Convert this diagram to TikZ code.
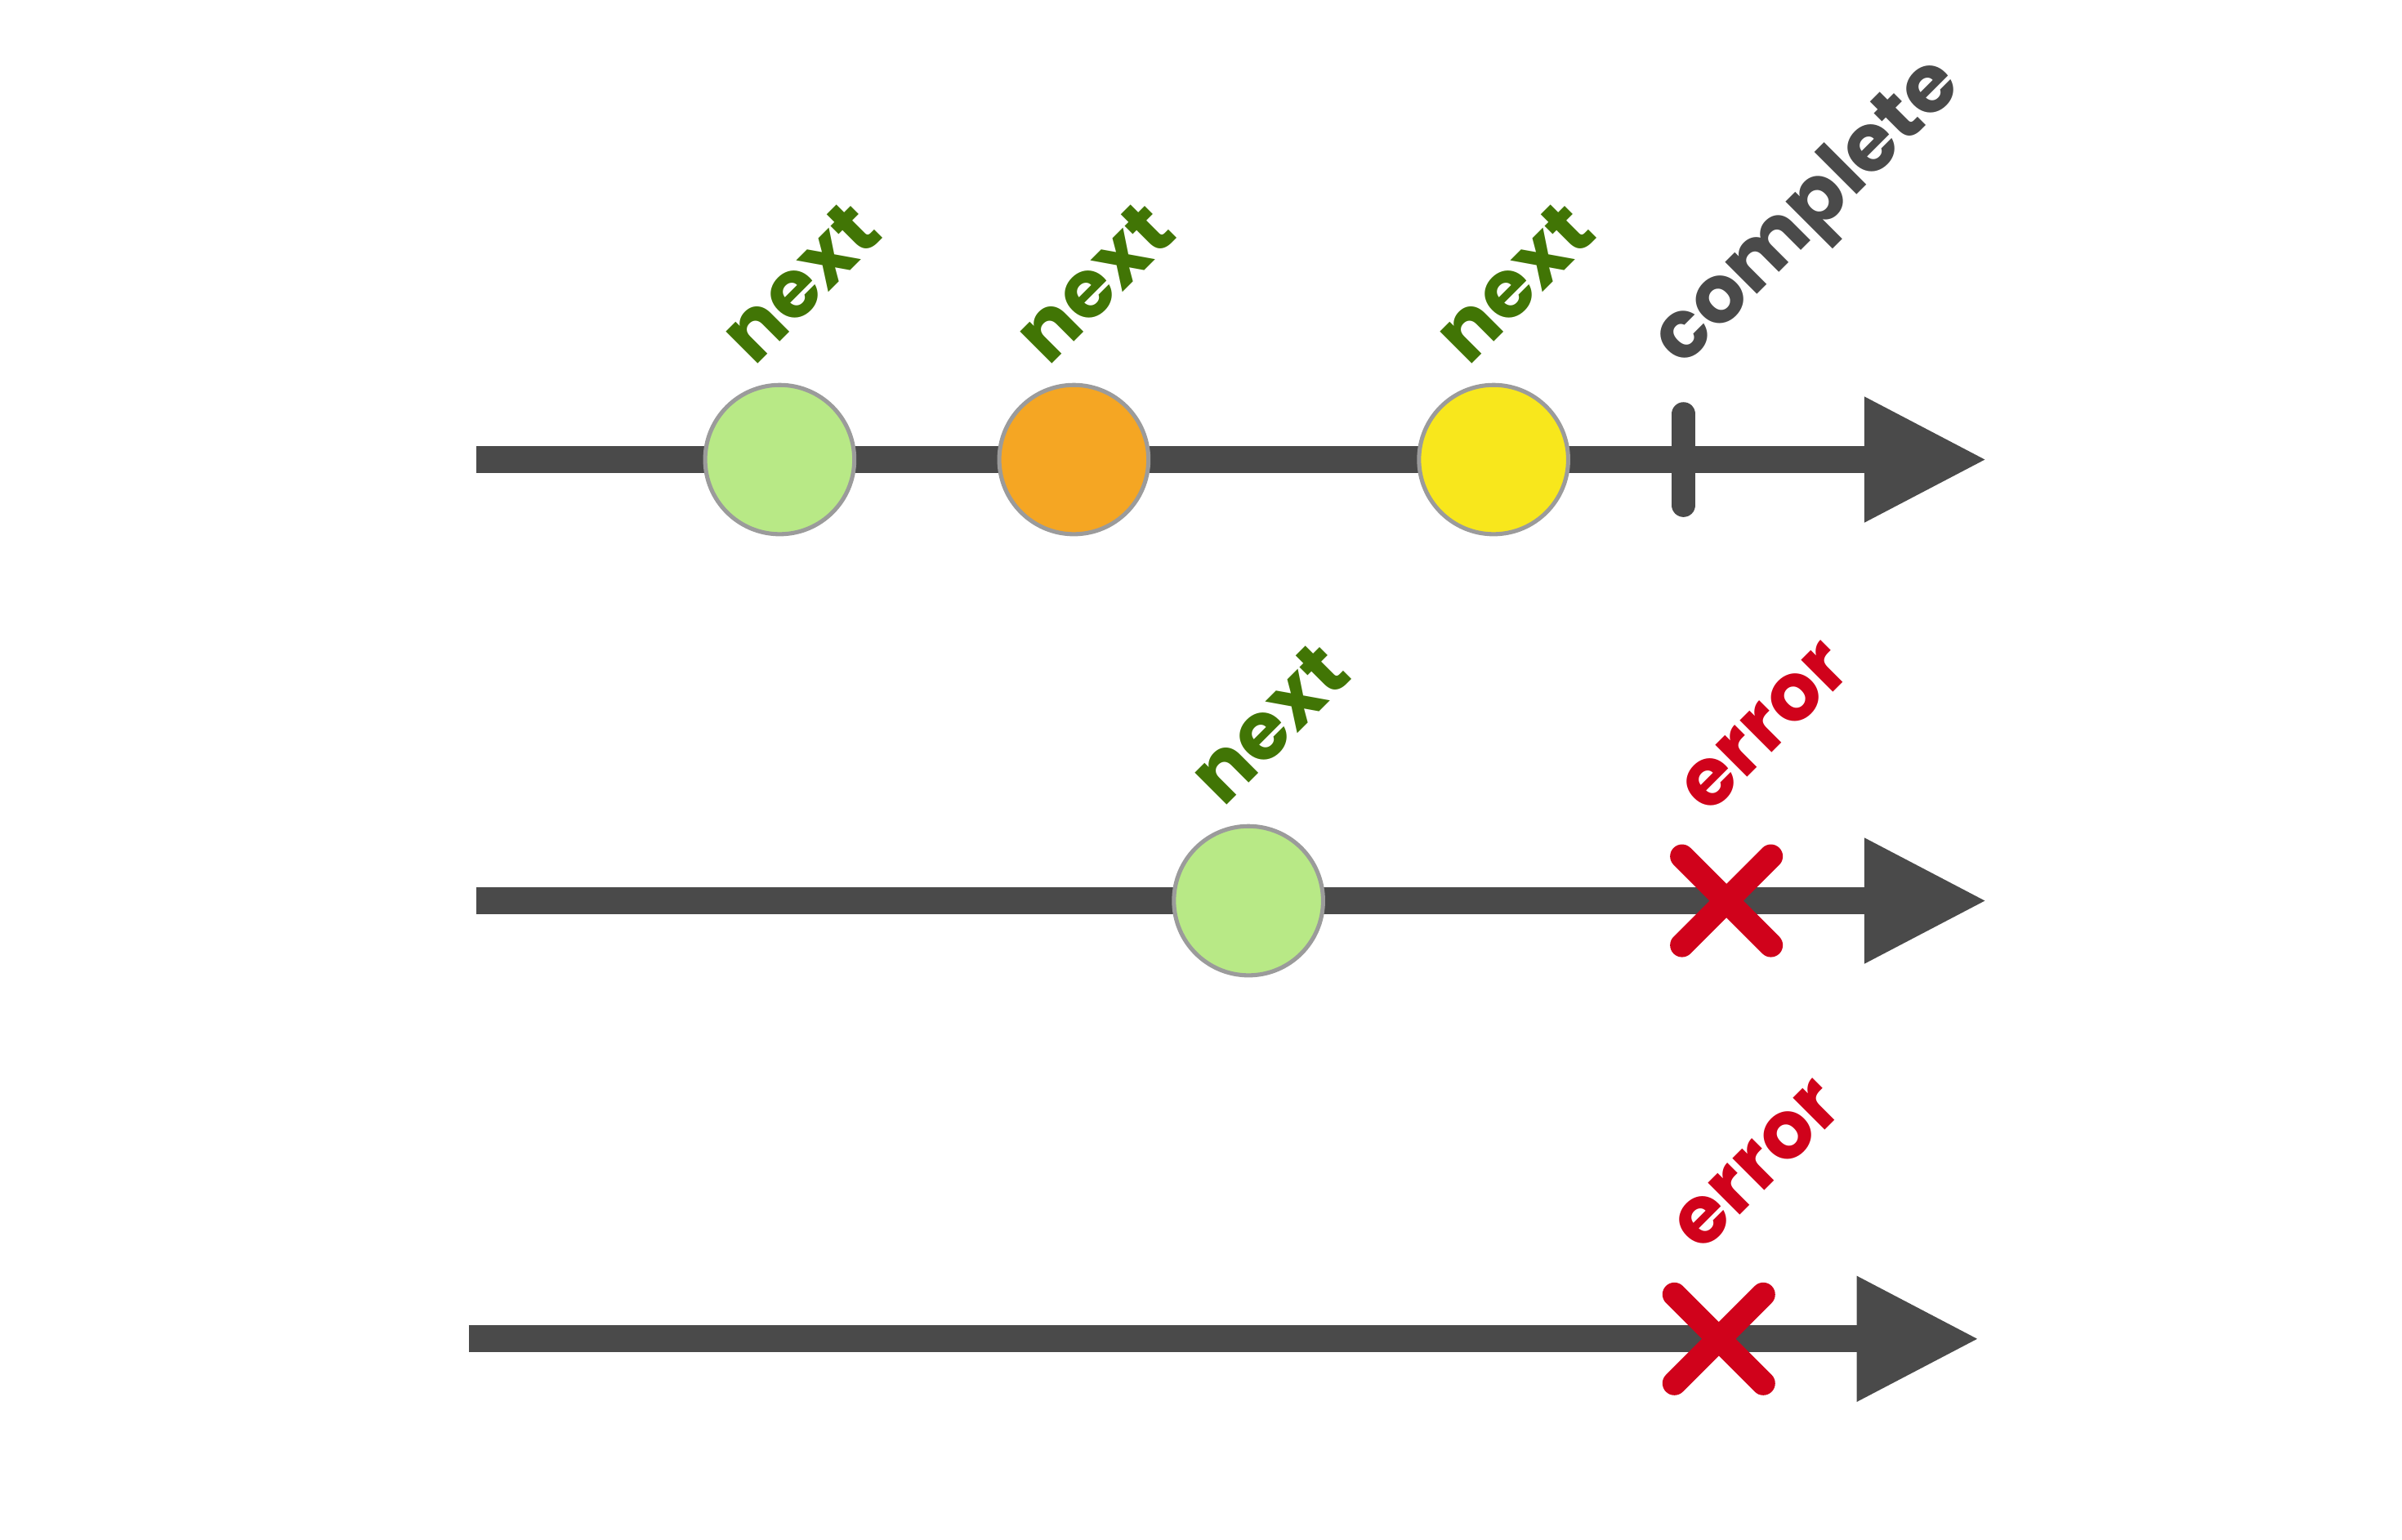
\documentclass[tikz,border=0pt]{standalone}
\usepackage{fontspec}
\newfontfamily\poppins{Poppins}
\usetikzlibrary{arrows.meta, calc}
\definecolor{mygray}{RGB}{74,74,74}
\definecolor{mygreen}{RGB}{65,117,5}
\definecolor{myred}{RGB}{208,2,27}
\definecolor{myorange}{RGB}{245,166,35}
\definecolor{myyellow}{RGB}{248,231,28}
\definecolor{lightgreen}{RGB}{184,233,134}
\definecolor{rimgray}{RGB}{155,155,155}

\tikzset{
    timeline/.style={mygray, line width=1.76mm, -{Triangle[length=8mm, width=7.7mm]}},
    event/.style={circle, draw=rimgray, line width=0.27mm, inner sep=0pt, minimum size=9.74mm},
    evlabel/.style={rotate=45, anchor=base west, inner sep=0pt, font=\poppins\bfseries\fontsize{15}{18}\selectfont},
    endmark/.style={mygray, line width=1.56mm, line cap=round},
    errmark/.style={myred, line width=1.56mm, line cap=round}
}

\begin{document}
\begin{tikzpicture}
    \useasboundingbox (0,0) rectangle (15.68,-10.048);

    % Stream 1: three values, then complete
    \coordinate (s1) at (3.11,-3.00);
    \coordinate (t1) at (12.97,-3.00);
    \draw[timeline] (s1) -- (t1);
    \node[event, fill=lightgreen] (a1) at (5.09,-3.00) {};
    \node[event, fill=myorange] (a2) at (7.01,-3.00) {};
    \node[event, fill=myyellow] (a3) at (9.75,-3.00) {};
    \coordinate (k1) at (10.99,-3.00);
    \draw[endmark] ($(k1)+(0,0.297)$) -- ($(k1)+(0,-0.297)$);
    \node[evlabel, mygreen] (l1) at ($(a1)+(-0.17,0.60)$) {next};
    \node[evlabel, mygreen] (l2) at ($(a2)+(-0.17,0.60)$) {next};
    \node[evlabel, mygreen] (l3) at ($(a3)+(-0.17,0.60)$) {next};
    \node[evlabel, mygray] (l4) at ($(k1)+(-0.01,0.59)$) {complete};

    % Stream 2: one value, then error
    \coordinate (s2) at (3.11,-5.88);
    \coordinate (t2) at (12.97,-5.88);
    \draw[timeline] (s2) -- (t2);
    \node[event, fill=lightgreen] (b1) at (8.15,-5.88) {};
    \coordinate (x2) at (11.27,-5.88);
    \draw[errmark] ($(x2)+(-0.29,-0.29)$) -- ($(x2)+(0.29,0.29)$)
        ($(x2)+(-0.29,0.29)$) -- ($(x2)+(0.29,-0.29)$);
    \node[evlabel, mygreen] (m1) at ($(b1)+(-0.17,0.60)$) {next};
    \node[evlabel, myred] (m2) at ($(x2)+(-0.12,0.55)$) {error};

    % Stream 3: error only
    \coordinate (s3) at (3.06,-8.74);
    \coordinate (t3) at (12.92,-8.74);
    \draw[timeline] (s3) -- (t3);
    \coordinate (x3) at (11.22,-8.74);
    \draw[errmark] ($(x3)+(-0.29,-0.29)$) -- ($(x3)+(0.29,0.29)$)
        ($(x3)+(-0.29,0.29)$) -- ($(x3)+(0.29,-0.29)$);
    \node[evlabel, myred] (n1) at ($(x3)+(-0.12,0.55)$) {error};
\end{tikzpicture}
\end{document}
